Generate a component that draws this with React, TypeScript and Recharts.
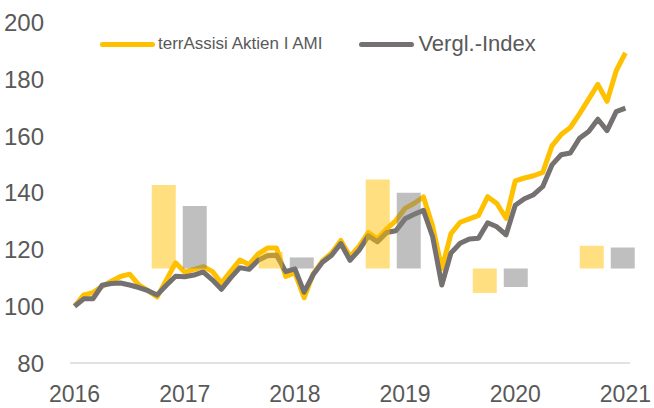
import { ComposedChart, Line, Bar, XAxis, YAxis } from "recharts";

// Monatswerte (indexiert, Start = 100), Jan 2016 .. Jan 2021
const fundValues = [
  100, 104, 104.8, 107, 108.8, 110.5, 111.3, 107.5, 105.5, 103.3, 109.3, 115.3,
  112, 113, 114, 112.3, 108.2, 112.3, 116.3, 114.7, 118.5, 120.5, 120.5, 110.5,
  111.8, 103, 111.5, 116, 118.8, 123.2, 117.5, 121.2, 126, 123.8, 127.3, 130.2,
  134.5, 136.3, 138.5, 128.3, 113.2, 125.6, 129.6, 130.8, 132, 138.6, 136.2, 131,
  144.2, 145.2, 146, 147.2, 156.5, 160.5, 163, 167.8, 173, 178.2, 172.2, 183,
  189.3,
];
const indexValues = [
  100, 102.6, 102.6, 107.4, 108, 108.2, 107.5, 106.6, 105.5, 104, 107.4, 110.6,
  110.4, 111, 112.1, 109.3, 106, 110, 113.6, 113, 116.2, 117.8, 118, 112.2,
  113.2, 105, 111.2, 115.5, 118, 122.1, 116.2, 119.8, 124.8, 122.7, 126, 126.6,
  130.8, 132.4, 133.8, 124.5, 107.5, 118.8, 122.2, 123.7, 124, 129.4, 128, 125.2,
  135.6, 137.9, 139.3, 142.2, 149.8, 153.4, 154, 159.2, 161.6, 165.9, 161.9, 168.6,
  169.8,
];

const yearLabels = ["2016", "2017", "2018", "2019", "2020", "2021"];
const yearTicks = [0, 12, 24, 36, 48, 60];
const yTicks = [80, 100, 120, 140, 160, 180, 200];

// Jahres-Balken (schwebend, Basis ~113.3 auf der Hauptachse)
const barYears = ["2016", "2017", "2018", "2019", "2020"];
const barBase = 113.3;
const fundBarTop = [142.7, 119.2, 144.7, 104.7, 121.3];
const indexBarTop = [135.3, 117.2, 140.0, 106.8, 120.7];

const lineData = fundValues.map((v, i) => ({ t: i, fund: v, index: indexValues[i] }));

const range = (top: number) => (top >= barBase ? [barBase, top] : [top, barBase]);
const barData = barYears.map((y, i) => ({
  bi: i,
  year: y,
  fundBar: range(fundBarTop[i]),
  indexBar: range(indexBarTop[i]),
}));

const FONT = "'Liberation Sans', Arial, sans-serif";
const TEXT = "#595959";
const YELLOW = "#FFC000";
const GREY = "#767171";

function LegendRow() {
  return (
    <div
      style={{
        position: "absolute",
        left: 100,
        top: 31,
        display: "flex",
        alignItems: "center",
        fontFamily: FONT,
        color: TEXT,
        whiteSpace: "nowrap",
      }}
    >
      <span style={{ width: 55, height: 5, borderRadius: 3, background: YELLOW }} />
      <span style={{ marginLeft: 3, fontSize: 17 }}>terrAssisi Aktien I AMI</span>
      <span style={{ marginLeft: 37, width: 55, height: 5, borderRadius: 3, background: GREY }} />
      <span style={{ marginLeft: 4, fontSize: 22 }}>Vergl.-Index</span>
    </div>
  );
}

export default function App() {
  return (
    <div style={{ position: "absolute", left: 0, top: 0, width: 654, height: 408, overflow: "hidden", background: "#fff" }}>
      <ComposedChart
        width={654}
        height={408}
        data={barData}
        barGap={7}
        margin={{ top: 22.5, right: 24, bottom: 15, left: 0 }}
      >
        <XAxis
          xAxisId="m"
          type="number"
          dataKey="t"
          domain={[-0.5, 60.5]}
          ticks={yearTicks}
          interval={0}
          tickFormatter={(v: number) => yearLabels[Math.round(v / 12)]}
          axisLine={{ stroke: "#D9D9D9", strokeWidth: 1.5 }}
          tickLine={false}
          tickSize={0}
          tickMargin={23}
          height={30}
          tick={{ fill: TEXT, fontSize: 23, fontFamily: FONT }}
        />
        <XAxis xAxisId="b" type="number" dataKey="bi" domain={[-1.021, 4.2126]} orientation="top" height={0} hide />
        <YAxis
          domain={[80, 200]}
          ticks={yTicks}
          interval={0}
          axisLine={false}
          tickLine={false}
          tickSize={0}
          tickMargin={26}
          width={70}
          tick={{ fill: TEXT, fontSize: 24, fontFamily: FONT }}
        />
        <Line
          xAxisId="m"
          data={lineData}
          dataKey="fund"
          type="linear"
          stroke={YELLOW}
          strokeWidth={5}
          strokeLinejoin="round"
          dot={false}
          activeDot={false}
          isAnimationActive={false}
        />
        <Line
          xAxisId="m"
          data={lineData}
          dataKey="index"
          type="linear"
          stroke={GREY}
          strokeWidth={5}
          strokeLinejoin="round"
          dot={false}
          activeDot={false}
          isAnimationActive={false}
        />
        <Bar xAxisId="b" dataKey="fundBar" barSize={24} fill={YELLOW} fillOpacity={0.5} zIndex={500} isAnimationActive={false} />
        <Bar xAxisId="b" dataKey="indexBar" barSize={24} fill="#7F7F7F" fillOpacity={0.5} zIndex={500} isAnimationActive={false} />
      </ComposedChart>
      <LegendRow />
    </div>
  );
}
